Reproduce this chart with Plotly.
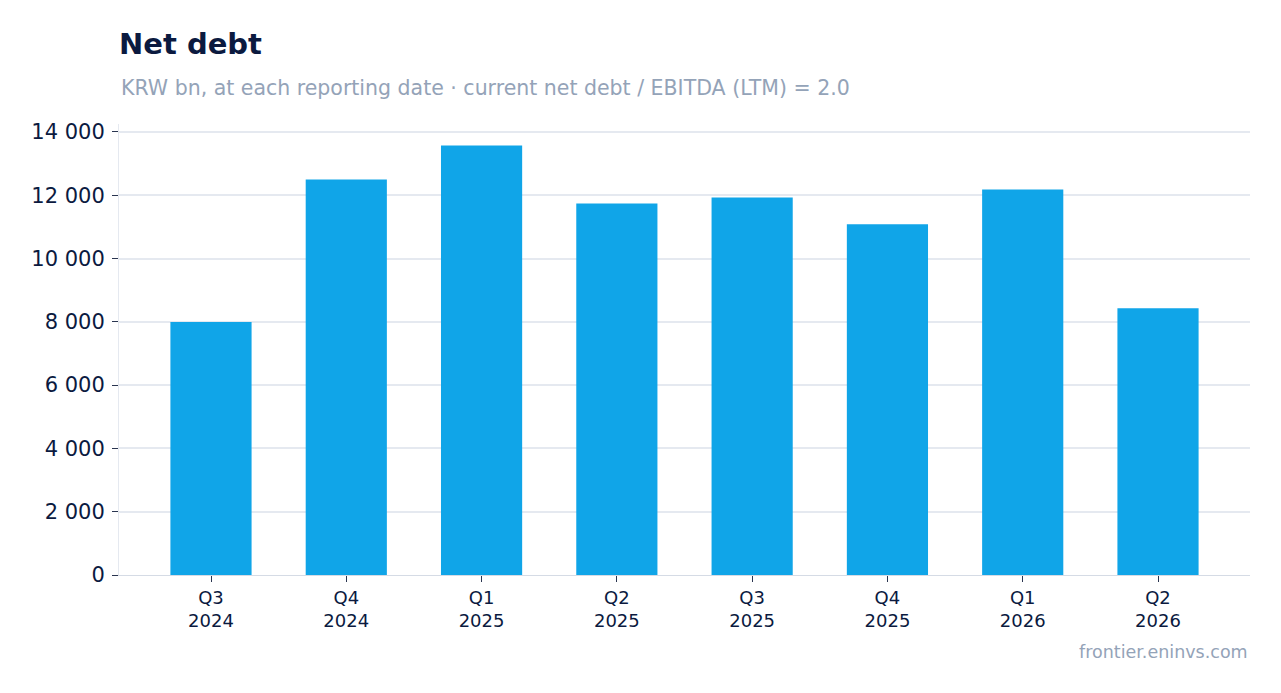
import plotly.graph_objects as go

# reporting dates (two-line tick labels) and net debt, KRW bn
periods = ["Q3<br>2024", "Q4<br>2024", "Q1<br>2025", "Q2<br>2025",
           "Q3<br>2025", "Q4<br>2025", "Q1<br>2026", "Q2<br>2026"]
net_debt = [7990, 12500, 13570, 11740, 11930, 11080, 12180, 8430]

BLUE = "#10a5e8"
NAVY = "#0b1a3f"
MUTED = "#94a3b8"
GRID = "#e5e9f0"

fig = go.Figure(
    go.Bar(x=periods, y=net_debt, marker_color=BLUE, marker_line_width=0, width=0.6)
)

# page body adds an 8px offset, margins compensate for it
fig.update_layout(
    width=1281,
    height=693,
    paper_bgcolor="white",
    plot_bgcolor="white",
    font=dict(family="DejaVu Sans", color=NAVY),
    separators=". ",
    margin=dict(l=111, r=39, t=116, b=126),
    showlegend=False,
    title=dict(
        text="<b>Net debt</b>",
        x=111 / 1281, xref="container", xanchor="left",
        y=1 - 36 / 693, yref="container", yanchor="middle",
        font=dict(size=29, color=NAVY),
    ),
    annotations=[
        dict(
            text="KRW bn, at each reporting date · current net debt / EBITDA (LTM) = 2.0",
            xref="paper", yref="paper", x=0, y=1 + 36 / 451,
            xanchor="left", yanchor="middle", showarrow=False,
            font=dict(size=20.5, color=MUTED),
        ),
        dict(
            text="frontier.eninvs.com",
            xref="paper", yref="paper", x=1, y=-77 / 451,
            xanchor="right", yanchor="middle", showarrow=False,
            font=dict(size=17.5, color=MUTED),
        ),
    ],
)

fig.update_xaxes(
    range=[-0.68, len(periods) - 1 + 0.68],
    showline=True, linecolor="#d5dbe5", linewidth=1,
    ticks="outside", ticklen=6, tickcolor="#2a3550",
    tickfont=dict(size=18, color=NAVY),
    showgrid=False,
)
fig.update_yaxes(
    range=[0, 14250],
    dtick=2000,
    tickformat=",",
    showline=True, linecolor=GRID, linewidth=1,
    ticks="outside", ticklen=6, tickcolor="#2a3550",
    tickfont=dict(size=21, color=NAVY),
    ticklabelstandoff=3,
    showgrid=True, gridcolor=GRID, gridwidth=1.5,
    zeroline=False,
)

fig.write_html("out.html")
